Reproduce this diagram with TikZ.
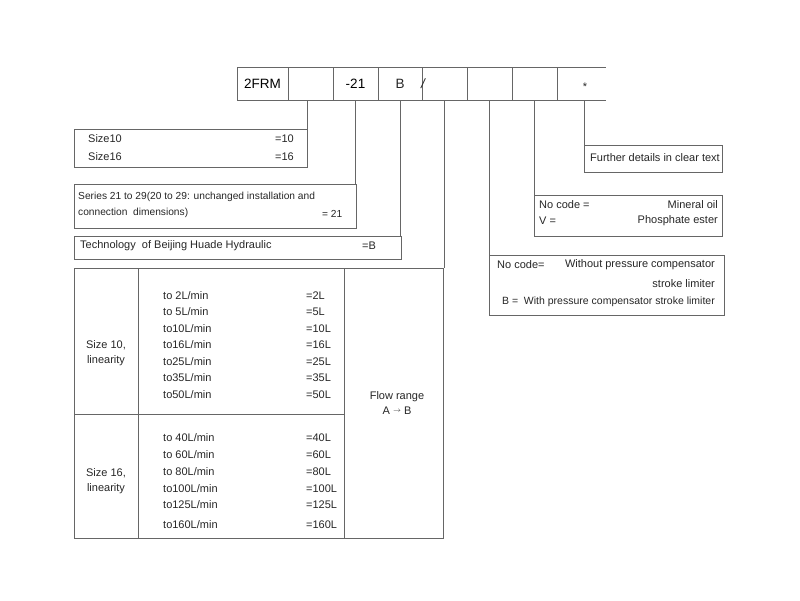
\documentclass[tikz,border=0pt]{standalone}
\usepackage{fontspec}
\setmainfont{Liberation Sans}
\begin{document}
\begin{tikzpicture}[x=1pt,y=-1pt,
  ln/.style={draw=black!60,line width=0.8pt},
  cell/.style={ln,minimum height=33pt,inner sep=0pt,outer sep=0pt,anchor=north west},
  box/.style={ln,inner sep=0pt,outer sep=0pt,anchor=north west},
  t/.style={inner sep=0pt,anchor=west,text=black!85,font=\fontsize{11}{12}\selectfont},
  tr/.style={t,anchor=east},
  tc/.style={t,anchor=center,align=center}]
\useasboundingbox (0,0) rectangle (800,600);
% code bar
\node[cell,minimum width=51pt,font=\fontsize{13.5}{15}\selectfont] (c1) at (237,67) {2FRM};
\node[cell,minimum width=45pt] (c2) at (288,67) {};
\node[cell,minimum width=45pt,font=\fontsize{13.5}{15}\selectfont] (c3) at (333,67) {-21};
\node[cell,minimum width=44pt] (c4) at (378,67) {};
\node[cell,minimum width=45pt] (c5) at (422,67) {};
\node[cell,minimum width=45pt] (c6) at (467,67) {};
\node[cell,minimum width=45pt] (c7) at (512,67) {};
\coordinate (c8nw) at (557,67);
\coordinate (c8ne) at (606,67);
\coordinate (c8sw) at (557,100);
\coordinate (c8se) at (606,100);
\coordinate (c8s) at (584,100);
\draw[ln] (c8nw) -- (c8ne) (c8sw) -- (c8se);
\node[t,anchor=center,font=\fontsize{13.5}{15}\selectfont] (bl) at (400,84) {B};
\node[t,anchor=center,font=\fontsize{13.5}{15}\itshape] (sl) at (423,84) {/};
\node[t,anchor=center] (st) at (585,87) {*};
% boxes
\node[box,minimum width=233pt,minimum height=38pt] (size) at (74,129) {};
\node[t] (s10) at (88,139) {Size10};
\node[t] (s16) at (88,157) {Size16};
\node[t] (e10) at (275,139) {=10};
\node[t] (e16) at (275,157) {=16};

\node[box,minimum width=282pt,minimum height=44pt] (ser) at (74,184) {};
\node[t,font=\fontsize{10.2}{12}\selectfont] (ser1) at (78,197) {Series 21 to 29(20 to 29: unchanged installation and};
\node[t,font=\fontsize{10.2}{12}\selectfont] (ser2) at (78,213) {connection\ \ dimensions)};
\node[t,font=\fontsize{10.2}{12}\selectfont] (ser3) at (322,214) {= 21};

\node[box,minimum width=327pt,minimum height=23pt] (tech) at (74,236) {};
\node[t] (tech1) at (80,246) {Technology\ \ of Beijing Huade Hydraulic};
\node[t] (tech2) at (362,246) {=B};

\node[box,minimum width=369pt,minimum height=270pt] (tab) at (74,268) {};
\coordinate (v1t) at (138,268); \coordinate (v1b) at (138,538);
\coordinate (v2t) at (344,268); \coordinate (v2b) at (344,538);
\coordinate (hl) at (74,414); \coordinate (hr) at (344,414);
\draw[ln] (v1t) -- (v1b) (v2t) -- (v2b) (hl) -- (hr);
\node[tc] (l10) at (106,353) {Size 10,\\[3pt]linearity};
\node[tc] (l16) at (106,481) {Size 16,\\[3pt]linearity};
\node[tc] (fr) at (397,403) {Flow range\\[3pt]A \raisebox{1.5pt}{\scriptsize$\rightarrow$} B};
\foreach \n/\a/\b/\y in {a1/to 2L\slash min/=2L/296, a2/to 5L\slash min/=5L/312, a3/to10L\slash min/=10L/329, a4/to16L\slash min/=16L/345, a5/to25L\slash min/=25L/362, a6/to35L\slash min/=35L/378, a7/to50L\slash min/=50L/395,
  b1/to 40L\slash min/=40L/438, b2/to 60L\slash min/=60L/455, b3/to 80L\slash min/=80L/472, b4/to100L\slash min/=100L/489, b5/to125L\slash min/=125L/505, b6/to160L\slash min/=160L/525}{
  \node[t] (\n l) at (163,\y) {\a};
  \node[t] (\n r) at (306,\y) {\b};
}

\node[box,minimum width=138pt,minimum height=27pt] (fd) at (584,145) {};
\node[tr] (fd1) at (720,158) {Further details in clear text};

\node[box,minimum width=188pt,minimum height=41pt] (oil) at (534,195) {};
\node[t] (o1) at (539,205) {No code =};
\node[t] (o2) at (539,221) {V =};
\node[tr] (o3) at (718,205) {Mineral oil};
\node[tr] (o4) at (718,221) {Phosphate ester};

\node[box,minimum width=235pt,minimum height=60pt] (nc) at (489,255) {};
\node[t] (n1) at (497,265) {No code=};
\node[tr] (n2) at (715,265) {Without pressure compensator};
\node[tr] (n3) at (715,284) {stroke limiter};
\node[tr,font=\fontsize{10.5}{12}\selectfont] (n4) at (715,302) {B =\ \ With pressure compensator stroke limiter};

% connectors
\draw[ln] (c2.south) ++(-3,0) coordinate (k2) (k2) -- (k2 |- size.north);
\draw[ln] (c3.south) -- (c3.south |- ser.north);
\draw[ln] (c4.south) -- (c4.south |- tech.north);
\draw[ln] (c5.south) -- (c5.south |- tab.north);
\draw[ln] (c6.south) -- (c6.south |- nc.north);
\draw[ln] (c7.south) -- (c7.south |- oil.north);
\draw[ln] (c8s) -- (c8s |- fd.north);
\end{tikzpicture}
\end{document}
